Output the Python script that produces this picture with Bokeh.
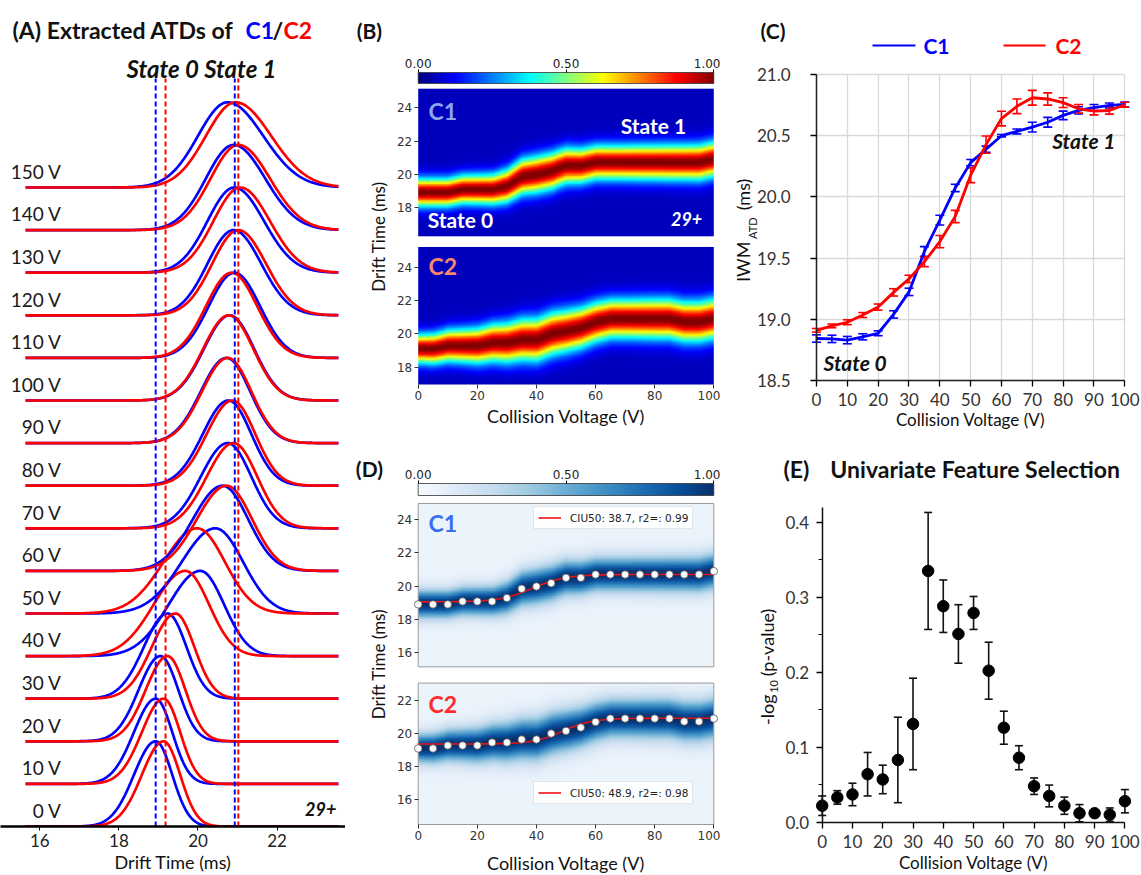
import numpy as np
from bokeh.plotting import figure
from bokeh.layouts import row, column
from bokeh.models import (Range1d, FixedTicker, NumeralTickFormatter, LinearColorMapper,
                          Whisker, TeeHead, ColumnDataSource, Legend, LegendItem,
                          CustomJSTickFormatter, Grid)
from bokeh.core.properties import value
from bokeh.embed import file_html
from bokeh.resources import INLINE
from bokeh.palettes import Blues256

# ---------------- data ----------------
# (A) extracted ATDs: peak drift time and left/right peak widths per collision voltage
atd_volts = [0, 10, 20, 30, 40, 50, 60, 70, 80, 90, 100, 110, 120, 130, 140, 150]
atd_c1_peak = [18.93, 18.93, 19.05, 19.23, 20.06, 20.44, 20.62, 20.75, 20.77, 20.72, 20.80, 20.92, 20.90, 20.92, 20.90, 20.75]
atd_c2_peak = [19.13, 19.13, 19.23, 19.43, 19.68, 19.98, 20.72, 20.90, 20.87, 20.75, 20.78, 20.85, 21.02, 21.07, 21.02, 20.95]
atd_width_left = [0.55, 0.55, 0.55, 0.60, 0.80, 0.85, 0.75, 0.68, 0.65, 0.65, 0.65, 0.65, 0.66, 0.68, 0.70, 0.75]
atd_width_right = [0.42, 0.42, 0.45, 0.48, 0.60, 0.70, 0.65, 0.60, 0.58, 0.60, 0.62, 0.65, 0.70, 0.75, 0.80, 0.90]
state_iwm_c1 = [18.93, 20.93]
state_iwm_c2 = [19.18, 21.02]

# (B)/(D) CIU fingerprints: centroid and width per collision voltage
ciu_volts = list(range(0, 101, 5))
c1_centroid = [18.90, 18.90, 18.90, 19.08, 19.08, 19.08, 19.28, 19.84, 19.98, 20.18, 20.50,
               20.50, 20.70, 20.70, 20.70, 20.70, 20.70, 20.70, 20.70, 20.70, 20.90]
c2_centroid = [19.08, 19.08, 19.26, 19.26, 19.26, 19.44, 19.44, 19.62, 19.62, 19.98, 20.14,
               20.34, 20.68, 20.88, 20.88, 20.88, 20.88, 20.88, 20.70, 20.70, 20.88]
c1_width = [0.56, 0.56, 0.56, 0.57, 0.58, 0.60, 0.65, 0.70, 0.72, 0.72, 0.70,
            0.68, 0.67, 0.67, 0.67, 0.68, 0.68, 0.69, 0.69, 0.70, 0.70]
c2_width = [0.57, 0.60, 0.63, 0.66, 0.70, 0.74, 0.78, 0.82, 0.84, 0.84, 0.82,
            0.80, 0.78, 0.76, 0.76, 0.77, 0.78, 0.78, 0.79, 0.79, 0.79]
ciu50 = [38.7, 48.9]
fit_r2 = [0.99, 0.98]
fit_low = [19.05, 19.35]
fit_high = [20.70, 20.90]
fit_slope = [0.18, 0.20]

# (C) IWM of ATD
iwm_c1 = [18.843, 18.84, 18.83, 18.857, 18.886, 19.04, 19.224, 19.554, 19.81, 20.073, 20.28,
          20.39, 20.50, 20.535, 20.57, 20.61, 20.666, 20.707, 20.73, 20.747, 20.755]
iwm_c1_err = [0.03, 0.03, 0.03, 0.025, 0.02, 0.03, 0.03, 0.04, 0.04, 0.03, 0.025,
              0.025, 0.01, 0.02, 0.04, 0.04, 0.035, 0.03, 0.025, 0.02, 0.02]
iwm_c2 = [18.91, 18.946, 18.976, 19.035, 19.10, 19.22, 19.33, 19.47, 19.635, 19.84, 20.177,
          20.427, 20.64, 20.74, 20.81, 20.80, 20.77, 20.72, 20.70, 20.706, 20.753]
iwm_c2_err = [0.015, 0.015, 0.02, 0.02, 0.025, 0.03, 0.03, 0.04, 0.05, 0.05, 0.06,
              0.07, 0.06, 0.06, 0.06, 0.05, 0.04, 0.035, 0.03, 0.03, 0.02]

# (E) univariate feature selection
uf_score = [0.022, 0.033, 0.037, 0.064, 0.057, 0.083, 0.131, 0.335, 0.288, 0.251, 0.279,
            0.202, 0.126, 0.086, 0.048, 0.035, 0.022, 0.012, 0.012, 0.010, 0.028]
uf_err = [0.013, 0.009, 0.015, 0.029, 0.019, 0.057, 0.061, 0.078, 0.035, 0.039, 0.022,
          0.038, 0.022, 0.016, 0.011, 0.0145, 0.0115, 0.0115, 0.002, 0.009, 0.0155]

# ---------------- style ----------------
BLUE = "#0000ff"
RED = "#ff0000"
CAL = "Lato"
MPL = "DejaVu Sans"
INK = "#111111"


def jet_palette(n=256):
    out = []
    for i in range(n):
        v = i / (n - 1)
        r = min(max(1.5 - abs(4 * v - 3), 0), 1)
        g = min(max(1.5 - abs(4 * v - 2), 0), 1)
        b = min(max(1.5 - abs(4 * v - 1), 0), 1)
        out.append("#%02x%02x%02x" % (round(r * 255), round(g * 255), round(b * 255)))
    return out


jet_mapper = LinearColorMapper(palette=jet_palette(), low=0, high=1)
blues_mapper = LinearColorMapper(palette=list(reversed(Blues256)), low=0, high=1)


def base_fig(w, h, xr, yr, ml=0, mr=0, mt=0, mb=0, **kw):
    p = figure(width=w, height=h, x_range=Range1d(*xr), y_range=Range1d(*yr),
               output_backend="svg", toolbar_location=None,
               min_border_left=ml, min_border_right=mr, min_border_top=mt, min_border_bottom=mb, **kw)
    p.outline_line_color = None
    p.grid.visible = False
    return p


def full_ranges(w, h, x0px, xpx, xv0, y0px, ypx, yv0):
    """ranges for a figure whose frame fills the whole canvas; value xv0 sits at pixel x0px."""
    xr = (xv0 - x0px / xpx, xv0 + (w - x0px) / xpx)
    yr = (yv0 - (h - y0px) / ypx, yv0 + y0px / ypx)
    return xr, yr


def style_axis(ax, font, size, color="#222222"):
    ax.major_label_text_font = font
    ax.major_label_text_font_size = size
    ax.major_label_text_color = color
    ax.axis_label_text_font = font
    ax.axis_label_text_font_style = "normal"
    ax.axis_label_text_color = INK
    ax.minor_tick_line_color = None


def txt(p, x, y, s, size, color=INK, style="normal", align="left", font=CAL, angle=0.0):
    p.text(x=[x], y=[y], text=[s], text_align=align, text_baseline="middle",
           text_font=value(font), text_font_style=style, text_font_size=size,
           text_color=color, angle=angle)


# ================= (A) =================  (page x 0..345, y 0..875)
pA = base_fig(345, 875, (15.006, 23.73), (0, 19.39), 0, 0, 0, 49, y_axis_location=None)
ax = pA.xaxis[0]
ax.ticker = FixedTicker(ticks=[16, 18, 20, 22])
style_axis(ax, CAL, "17px", "#222222")
ax.axis_line_width = 2.5
ax.major_tick_out = 4
ax.major_tick_in = 0
ax.major_label_standoff = 3
ax.axis_label = "Drift Time (ms)"
ax.axis_label_text_font_size = "18px"
ax.axis_label_standoff = 1

tgrid = np.linspace(15.64, 23.55, 500)
for i, v in enumerate(atd_volts):
    for peaks, col in ((atd_c1_peak, BLUE), (atd_c2_peak, RED)):
        c = peaks[i]
        s = np.where(tgrid < c, atd_width_left[i], atd_width_right[i])
        yv = i + 2.0 * np.exp(-(tgrid - c) ** 2 / (2 * s ** 2))
        pA.line(tgrid, yv, color=col, line_width=2.7)

pA.segment(x0=state_iwm_c1, y0=[0, 0], x1=state_iwm_c1, y1=[17.56, 17.56],
           line_color=BLUE, line_width=2, line_dash="5 3")
pA.segment(x0=state_iwm_c2, y0=[0, 0], x1=state_iwm_c2, y1=[17.56, 17.56],
           line_color=RED, line_width=2, line_dash="5 3")

pA.text(x=[16.55] * len(atd_volts), y=[i + 0.38 for i in range(len(atd_volts))],
        text=[f"{v} V" for v in atd_volts], text_align="right", text_baseline="middle",
        text_font=value(CAL), text_font_size="19px", text_color="#1a1a1a")
txt(pA, 15.31, 18.69, "(A) Extracted ATDs of", "23px", style="bold")
txt(pA, 21.20, 18.69, "C1", "23px", color=BLUE, style="bold")
txt(pA, 21.885, 18.69, "/", "23px", style="bold")
txt(pA, 22.16, 18.69, "C2", "23px", color=RED, style="bold")
txt(pA, 20.09, 17.79, "State 0 State 1", "24px", style="bold italic", align="center")
txt(pA, 23.5, 0.42, "29+", "18px", style="bold italic", align="right")

# ================= column 2 geometry (full-frame figures, width 375) =================
M_X0, M_XPX = 72.7, 2.956          # collision voltage 0 at px 72.7, px per volt
CB_PX = 295.6                      # colorbar: px per unit (0..1)


def colorbar_fig(h, bar_top, bar_bot, mapper, tag, tag_y):
    hp = float(bar_bot - bar_top)
    xr, yr = full_ranges(375, h, M_X0, CB_PX, 0.0, bar_bot, hp, 0.0)
    p = base_fig(375, h, xr, yr, x_axis_location="above", y_axis_location=None)
    grad = np.linspace(0, 1, 256)[None, :]
    p.image(image=[grad], x=0, y=0, dw=1, dh=1, color_mapper=mapper)
    p.quad(left=[0], right=[1], bottom=[0], top=[1], fill_color=None, line_color="#333333", line_width=0.8)
    a = p.xaxis[0]
    a.fixed_location = 1
    a.bounds = (0, 1)
    a.ticker = FixedTicker(ticks=[0, 0.5, 1])
    a.formatter = NumeralTickFormatter(format="0.00")
    style_axis(a, MPL, "12px", "#222222")
    a.axis_line_color = None
    a.major_tick_out = 3
    a.major_tick_in = 0
    a.major_label_standoff = 2
    txt(p, -0.165, tag_y, tag, "21px", style="bold", align="center")
    return p


def stacked_axes(p, off, split, ylo, yhi, ticks_low, ticks_high, label_standoff):
    ay = p.yaxis[0]
    ay.fixed_location = 0
    ay.bounds = (ylo, yhi)
    ay.ticker = FixedTicker(ticks=ticks_low + [t + off for t in ticks_high])
    ay.formatter = CustomJSTickFormatter(
        code=f"return Math.round(tick > {split} ? tick - {off} : tick).toString();")
    style_axis(ay, MPL, "12px", "#333333")
    ay.axis_line_color = None
    ay.major_tick_out = 4
    ay.major_tick_in = 0
    ay.major_tick_line_color = "#333333"
    ay.major_label_standoff = 2
    ay.axis_label = "Drift Time (ms)"
    ay.axis_label_text_font = CAL
    ay.axis_label_text_font_size = "17px"
    ay.axis_label_standoff = 5
    axx = p.xaxis[0]
    axx.fixed_location = ylo
    axx.bounds = (0, 100)
    axx.ticker = FixedTicker(ticks=[0, 20, 40, 60, 80, 100])
    style_axis(axx, MPL, "12px", "#333333")
    axx.axis_line_color = None
    axx.major_tick_out = 4
    axx.major_tick_in = 0
    axx.major_tick_line_color = "#333333"
    axx.major_label_standoff = 2
    axx.axis_label = "Collision Voltage (V)"
    axx.axis_label_text_font = CAL
    axx.axis_label_text_font_size = "18px"
    axx.axis_label_standoff = label_standoff


vgrid = np.linspace(0, 100, 301)


def ciu_image(tlo, thi, cent, wid):
    tt = np.linspace(tlo, thi, 220)
    cc = np.interp(vgrid, ciu_volts, cent)
    ss = np.interp(vgrid, ciu_volts, wid)
    return 0.06 + 0.94 * np.exp(-(tt[:, None] - cc[None, :]) ** 2 / (2 * ss[None, :] ** 2))


# ================= (B) =================  (page y 0..88 colorbar, 88..440 maps)
cbB = colorbar_fig(88, 72, 83, jet_mapper, "(B)", 4.818)
offB = 9.54
xrB, yrB = full_ranges(375, 352, M_X0, M_XPX, 0.0, 296, 16.69, 16.96)
pB = base_fig(375, 352, xrB, yrB)
pB.image(image=[ciu_image(16.30, 25.16, c1_centroid, c1_width)], x=0, y=16.30 + offB,
         dw=100, dh=25.16 - 16.30, color_mapper=jet_mapper)
pB.image(image=[ciu_image(16.96, 25.20, c2_centroid, c2_width)], x=0, y=16.96,
         dw=100, dh=25.20 - 16.96, color_mapper=jet_mapper)
stacked_axes(pB, offB, 25.5, 16.96, 25.16 + offB, [18, 20, 22, 24], [18, 20, 22, 24], 2)
txt(pB, 3.5, 33.37, "C1", "23px", color="#8ea5ee", style="bold")
txt(pB, 3.5, 24.04, "C2", "23px", color="#f4896f", style="bold")
txt(pB, 79.6, 32.47, "State 1", "21px", color="white", style="bold", align="center")
txt(pB, 14.3, 26.87, "State 0", "21px", color="white", style="bold", align="center")
txt(pB, 90.8, 26.87, "29+", "18px", color="white", style="bold italic", align="center")

# ================= (D) =================  (page y 440..500 colorbar, 500..875 maps)
cbD = colorbar_fig(60, 43, 55, blues_mapper, "(D)", 2.25)
offD = 8.86
xrD, yrD = full_ranges(375, 375, M_X0, M_XPX, 0.0, 324, 16.6, 14.50)
pD = base_fig(375, 375, xrD, yrD)
pD.image(image=[ciu_image(15.14, 24.98, c1_centroid, c1_width)], x=0, y=15.14 + offD,
         dw=100, dh=24.98 - 15.14, color_mapper=blues_mapper)
pD.image(image=[ciu_image(14.50, 23.02, c2_centroid, c2_width)], x=0, y=14.50,
         dw=100, dh=23.02 - 14.50, color_mapper=blues_mapper)
pD.quad(left=[0, 0], right=[100, 100], bottom=[15.14 + offD, 14.50], top=[24.98 + offD, 23.02],
        fill_color=None, line_color="#9a9a9a", line_width=1)
stacked_axes(pD, offD, 23.5, 14.50, 24.98 + offD, [16, 18, 20, 22], [16, 18, 20, 22, 24], 9)

vfit = np.linspace(0, 100, 201)
for k, (cent, off, loc) in enumerate(((c1_centroid, offD, (188, 346)), (c2_centroid, 0.0, (188, 71)))):
    fit = fit_low[k] + (fit_high[k] - fit_low[k]) / (1 + np.exp(-fit_slope[k] * (vfit - ciu50[k])))
    r = pD.line(vfit, fit + off, line_color="#ee1111", line_width=1.6)
    pD.scatter(ciu_volts, [c + off for c in cent], size=7.5, fill_color="white",
               line_color="#555555", line_width=0.8)
    leg = Legend(items=[LegendItem(label=f"CIU50: {ciu50[k]}, r2=: {fit_r2[k]}", renderers=[r])],
                 location=loc, label_text_font=MPL, label_text_font_size="10.5px",
                 label_text_color="#222222", glyph_width=23, glyph_height=13, label_height=13,
                 label_standoff=9, padding=4, margin=0, spacing=0,
                 border_line_color="#cccccc", background_fill_alpha=0.85)
    pD.add_layout(leg)
txt(pD, 3.5, 32.64, "C1", "23px", color="#3a6df0", style="bold")
txt(pD, 3.5, 21.77, "C2", "23px", color="#ff2a2a", style="bold")

HAS_CROSS = "cross_bounds" in Grid.properties()


def bounded_grid(p, xt, yt, xb, yb):
    if HAS_CROSS:
        p.grid.visible = True
        p.xgrid.ticker = FixedTicker(ticks=xt)
        p.xgrid.bounds = xb
        p.xgrid.cross_bounds = yb
        p.ygrid.ticker = FixedTicker(ticks=yt)
        p.ygrid.bounds = yb
        p.ygrid.cross_bounds = xb
        p.grid.grid_line_color = "#d9d9d9"
        p.grid.grid_line_width = 1.3
    else:
        p.segment(x0=xt, y0=[yb[0]] * len(xt), x1=xt, y1=[yb[1]] * len(xt),
                  line_color="#d9d9d9", line_width=1.3)
        p.segment(x0=[xb[0]] * len(yt), y0=yt, x1=[xb[1]] * len(yt), y1=yt,
                  line_color="#d9d9d9", line_width=1.3)


# ================= (C) =================  (page x 720..1141, y 0..435), full-frame
xrC, yrC = full_ranges(421, 435, 96.0, 3.083, 0.0, 380.0, 122.4, 18.5)
pC = base_fig(421, 435, xrC, yrC)
xt_c = list(range(0, 101, 10))
yt_c = [18.5, 19.0, 19.5, 20.0, 20.5, 21.0]
bounded_grid(pC, xt_c, yt_c, (0, 100), (18.5, 21.0))
for a in (pC.xaxis[0], pC.yaxis[0]):
    style_axis(a, CAL, "17px", "#333333")
    a.axis_line_width = 1.5
    a.axis_line_color = "#222222"
    a.major_tick_out = 6
    a.major_tick_in = 0
    a.major_tick_line_width = 1.3
pC.xaxis[0].fixed_location = 18.5
pC.xaxis[0].bounds = (0, 100)
pC.xaxis[0].ticker = FixedTicker(ticks=xt_c)
pC.xaxis[0].major_label_standoff = 6
pC.xaxis[0].axis_label = "Collision Voltage (V)"
pC.xaxis[0].axis_label_text_font_size = "17px"
pC.xaxis[0].axis_label_standoff = 0
pC.yaxis[0].fixed_location = 0
pC.yaxis[0].bounds = (18.5, 21.0)
pC.yaxis[0].ticker = FixedTicker(ticks=yt_c)
pC.yaxis[0].formatter = NumeralTickFormatter(format="0.0")
pC.yaxis[0].major_label_standoff = 20

for ys, es, col in ((iwm_c1, iwm_c1_err, BLUE), (iwm_c2, iwm_c2_err, RED)):
    pC.line(ciu_volts, ys, line_color=col, line_width=2.8)
    src = ColumnDataSource(dict(x=ciu_volts, lo=[y - e for y, e in zip(ys, es)],
                                hi=[y + e for y, e in zip(ys, es)]))
    pC.add_layout(Whisker(base="x", lower="lo", upper="hi", source=src, line_color=col, line_width=1.6,
                          upper_head=TeeHead(size=9, line_color=col, line_width=1.6),
                          lower_head=TeeHead(size=9, line_color=col, line_width=1.6)))

txt(pC, -18.16, 21.36, "(C)", "21px", style="bold")
pC.segment(x0=[18.16, 60.65], y0=[21.237, 21.237], x1=[32.1, 74.3], y1=[21.237, 21.237],
           line_color=[BLUE, RED], line_width=2)
txt(pC, 34.7, 21.237, "C1", "21px", color=BLUE, style="bold")
txt(pC, 77.5, 21.237, "C2", "21px", color=RED, style="bold")
txt(pC, -23.7, 19.47, "IWM", "18px", align="center", angle=np.pi / 2)
txt(pC, -20.76, 19.745, "ATD", "11px", align="center", angle=np.pi / 2)
txt(pC, -23.7, 20.02, "(ms)", "18px", align="center", angle=np.pi / 2)
txt(pC, 96.98, 20.46, "State 1", "21px", style="bold italic", align="right")
txt(pC, 2.27, 18.647, "State 0", "21px", style="bold italic")

# ================= (E) =================  (page x 720..1141, y 435..875), full-frame
xrE, yrE = full_ranges(421, 440, 101.7, 3.027, 0.0, 386.7, 750.0, 0.0)
pE = base_fig(421, 440, xrE, yrE)
for a in (pE.xaxis[0], pE.yaxis[0]):
    style_axis(a, CAL, "17px", "#333333")
    a.axis_line_width = 1.5
    a.axis_line_color = INK
    a.major_tick_out = 6
    a.major_tick_in = 0
    a.major_tick_line_width = 1.3
ax = pE.xaxis[0]
ax.fixed_location = 0
ax.bounds = (0, 100)
ax.ticker = FixedTicker(ticks=list(range(0, 101, 10)))
ax.major_label_standoff = 7
ax.axis_label = "Collision Voltage (V)"
ax.axis_label_text_font_size = "17px"
ax.axis_label_standoff = 0
ay = pE.yaxis[0]
ay.fixed_location = 0
ay.bounds = (0, 0.42)
ay.ticker = FixedTicker(ticks=[0.0, 0.1, 0.2, 0.3, 0.4], minor_ticks=[0.05, 0.15, 0.25, 0.35])
ay.formatter = NumeralTickFormatter(format="0.0")
ay.minor_tick_line_color = INK
ay.minor_tick_out = 4
ay.minor_tick_in = 0
ay.major_label_standoff = 7

srcE = ColumnDataSource(dict(x=ciu_volts, lo=[y - e for y, e in zip(uf_score, uf_err)],
                             hi=[y + e for y, e in zip(uf_score, uf_err)]))
pE.add_layout(Whisker(base="x", lower="lo", upper="hi", source=srcE, line_color=INK,
                      line_width=1.6,
                      upper_head=TeeHead(size=8, line_color=INK, line_width=1.6),
                      lower_head=TeeHead(size=8, line_color=INK, line_width=1.6)))
pE.scatter(ciu_volts, uf_score, size=11.5, color="#000000")

txt(pE, -12.8, 0.4716, "(E)", "23px", style="bold")
txt(pE, 2.7, 0.4716, "Univariate Feature Selection", "23px", style="bold")
txt(pE, -18.4, 0.150, "-log", "18px", align="center", angle=np.pi / 2)
txt(pE, -15.76, 0.181, "10", "11px", align="center", angle=np.pi / 2)
txt(pE, -18.4, 0.2396, "(p-value)", "18px", align="center", angle=np.pi / 2)

layout = row(pA, column(cbB, pB, cbD, pD), column(pC, pE))
open("out.html", "w").write(file_html(layout, INLINE))
